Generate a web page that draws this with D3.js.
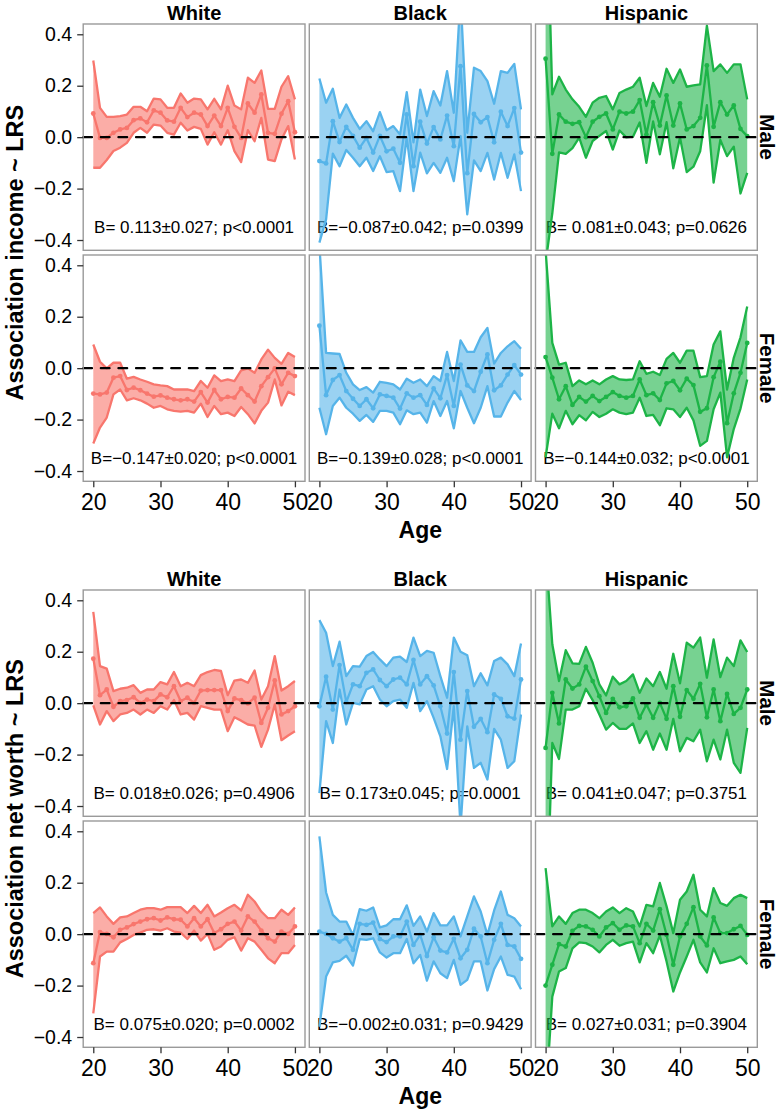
<!DOCTYPE html>
<html><head><meta charset="utf-8">
<script src="https://cdn.jsdelivr.net/npm/d3@7"></script>
<style>body{margin:0;background:#fff} svg{display:block} text{font-family:"Liberation Sans",Arial,Helvetica,sans-serif}</style>
</head><body>
<svg id="chart" width="781" height="1111"></svg>
<script>
// ---------------- data ----------------
const ages = [20,21,22,23,24,25,26,27,28,29,30,31,32,33,34,35,36,37,38,39,40,41,42,43,44,45,46,47,48,49,50];
const races = ["White","Black","Hispanic"];
const sexes = ["Male","Female"];
const yTicks = [-0.4,-0.2,0,0.2,0.4];
const xTicks = [20,30,40,50];
const yTitles = ["Association income ~ LRS","Association net worth ~ LRS"];
const raceColors = ["#F8766D","#56B4E9","#1DB447"];

// income, White Male
const incWhiteMaleEst = [.092,-.003,-.003,.017,.03,.036,.066,.073,.058,.104,.095,.065,.06,.114,.078,.095,.088,.043,.084,.043,.114,.04,-.003,.131,.095,.166,.017,.013,.091,.14,.019];
const incWhiteMaleHi = [.298,.114,.079,.079,.082,.088,.118,.118,.101,.15,.147,.114,.114,.17,.134,.15,.147,.108,.149,.108,.2,.123,.108,.231,.211,.259,.11,.11,.196,.237,.147];
const incWhiteMaleLo = [-.119,-.119,-.089,-.054,-.041,-.022,.017,.036,.017,.049,.045,.017,.01,.056,.026,.04,.032,-.029,.019,-.029,.027,-.054,-.097,.027,-.016,.075,-.087,-.093,-.009,.043,-.087];
// income, Black Male
const incBlackMaleEst = [-.093,-.102,.062,-.019,.04,.005,-.041,-.003,-.06,.005,-.055,-.045,-.1,.088,-.113,.06,-.025,.039,-.009,.084,-.035,.276,-.14,.09,.058,.078,-.02,.099,.043,.113,-.06];
const incBlackMaleHi = [.228,.134,.188,.075,.127,.075,.032,.062,.023,.097,.027,.043,.01,.175,-.02,.185,.082,.179,.123,.257,.095,.55,.017,.27,.257,.218,.13,.257,.25,.285,.108];
const incBlackMaleLo = [-.41,-.32,-.064,-.113,-.05,-.08,-.113,-.08,-.132,-.074,-.136,-.132,-.21,0,-.21,-.06,-.141,-.1,-.139,-.08,-.171,.004,-.3,-.09,-.132,-.061,-.165,-.061,-.158,-.067,-.21];
// income, Hispanic Male
const incHispMaleEst = [.305,-.065,.088,.06,.052,.058,0,.06,.079,.092,.03,.099,.092,.099,.144,.01,.136,.045,.162,.045,.131,.03,.043,.075,.279,.04,.136,.088,.123,.032,.004];
const incHispMaleHi = [1.1,.166,.235,.185,.147,.118,.079,.134,.153,.16,.108,.172,.185,.196,.231,.121,.211,.157,.266,.211,.263,.196,.201,.205,.434,.257,.283,.25,.283,.283,.147];
const incHispMaleLo = [-.49,-.296,-.059,-.065,-.043,-.002,-.08,-.015,.005,.024,-.048,.026,-.001,.002,.057,-.1,.061,-.067,.058,-.121,-.001,-.136,-.115,-.055,.124,-.177,-.011,-.074,-.037,-.219,-.139];
// income, White Female
const incWhiteFemaleEst = [-.099,-.102,-.095,-.037,-.031,-.085,-.076,-.086,-.099,-.111,-.106,-.115,-.121,-.125,-.121,-.13,-.093,-.134,-.085,-.121,-.112,-.115,-.079,-.105,-.13,-.07,-.035,-.001,-.063,-.018,-.031];
const incWhiteFemaleHi = [.092,.025,-.001,.021,.021,-.041,-.034,-.044,-.053,-.063,-.067,-.07,-.083,-.083,-.083,-.089,-.05,-.076,-.028,-.05,-.044,-.05,-.009,-.001,-.018,.034,.072,.04,.017,.059,.043];
const incWhiteFemaleLo = [-.293,-.231,-.192,-.102,-.083,-.125,-.117,-.125,-.138,-.154,-.147,-.16,-.166,-.169,-.166,-.173,-.138,-.19,-.147,-.179,-.173,-.186,-.151,-.179,-.215,-.166,-.134,-.044,-.145,-.092,-.105];
// income, Black Female
const incBlackFemaleEst = [.165,-.105,-.046,-.027,-.089,-.119,-.147,-.121,-.156,-.102,-.108,-.115,-.157,-.098,-.115,-.105,-.143,-.079,-.117,-.027,-.147,.014,-.067,-.089,-.014,.053,-.086,-.067,-.025,.012,-.025];
const incBlackFemaleHi = [.48,.059,.057,.055,-.018,-.063,-.085,-.074,-.095,-.053,-.057,-.063,-.083,-.041,-.057,-.044,-.07,-.031,-.05,.063,-.05,.108,.063,.063,.12,.156,.018,.059,.085,.105,.075];
const incBlackFemaleLo = [-.154,-.257,-.147,-.115,-.154,-.177,-.205,-.182,-.209,-.166,-.166,-.173,-.218,-.164,-.179,-.173,-.212,-.128,-.186,-.128,-.234,-.089,-.154,-.214,-.154,-.07,-.188,-.188,-.134,-.089,-.124];
// income, Hispanic Female
const incHispFemaleEst = [.043,-.037,-.121,-.07,-.143,-.112,-.13,-.108,-.128,-.112,-.093,-.108,-.115,-.108,-.044,-.105,-.098,-.124,-.059,-.05,-.086,-.041,-.066,-.17,-.156,-.035,.025,-.214,-.098,-.018,.098];
const incHispFemaleHi = [.46,.098,.014,.021,-.07,-.048,-.063,-.048,-.063,-.044,-.031,-.044,-.046,-.044,.027,-.022,-.014,-.027,.036,.059,.021,.068,.068,-.035,-.031,.092,.143,-.083,.04,.12,.24];
const incHispFemaleLo = [-.347,-.177,-.234,-.166,-.218,-.183,-.203,-.17,-.19,-.177,-.16,-.173,-.179,-.173,-.115,-.186,-.182,-.222,-.156,-.16,-.19,-.154,-.203,-.302,-.283,-.16,-.095,-.347,-.237,-.157,-.044];
// net worth, White Male
const nwWhiteMaleEst = [.173,.031,.053,-.014,.008,.012,.023,.001,.014,.008,.034,.023,.066,.008,.021,.001,.049,.051,.051,.051,-.031,.018,.012,-.001,.021,-.077,-.018,.088,-.044,-.031,-.012];
const nwWhiteMaleHi = [.355,.144,.134,.047,.056,.06,.07,.04,.053,.053,.082,.073,.121,.066,.079,.066,.109,.121,.129,.125,.031,.088,.092,.079,.127,.014,.066,.183,.049,.066,.086];
const nwWhiteMaleLo = [-.009,-.083,-.031,-.07,-.044,-.038,-.025,-.044,-.025,-.038,-.012,-.025,.012,-.044,-.038,-.064,-.012,-.018,-.025,-.025,-.109,-.055,-.068,-.083,-.087,-.17,-.103,-.005,-.144,-.126,-.109];
// net worth, Black Male
const nwBlackMaleEst = [-.012,.103,-.025,.148,.004,.073,.066,.118,.131,.09,.066,.092,.099,.073,.168,.073,.105,.069,-.012,-.118,.121,-.142,.047,-.092,-.061,-.113,.034,.017,-.051,-.06,.092];
const nwBlackMaleHi = [.323,.274,.144,.239,.105,.144,.142,.183,.199,.17,.144,.177,.181,.16,.255,.183,.203,.196,.105,.021,.255,.2,.186,.066,.116,.069,.164,.177,.151,.105,.232];
const nwBlackMaleLo = [-.35,-.07,-.155,.053,-.083,.001,-.005,.053,.066,.014,-.012,.008,.014,-.018,.079,-.031,.008,-.057,-.129,-.256,-.012,-.48,-.09,-.252,-.232,-.297,-.1,-.142,-.252,-.226,-.044];
// net worth, Hispanic Male
const nwHispMaleEst = [-.174,.04,-.079,.092,.057,.073,.142,.086,.027,-.038,.017,-.016,-.012,.018,-.057,-.005,-.057,.001,-.061,.066,-.053,.051,.017,.075,-.055,.053,-.07,.036,-.042,-.018,.053];
const nwHispMaleHi = [.6,.229,.086,.206,.155,.153,.219,.157,.073,.03,.103,.073,.086,.112,.04,.096,.066,.121,.056,.192,.077,.235,.216,.255,.099,.248,.101,.177,.144,.244,.199];
const nwHispMaleLo = [-.95,-.155,-.217,-.025,-.025,-.012,.056,.012,-.044,-.103,-.077,-.1,-.1,-.079,-.155,-.109,-.181,-.118,-.181,-.061,-.187,-.135,-.148,-.103,-.226,-.142,-.219,-.103,-.232,-.271,-.096];
// net worth, White Female
const nwWhiteFemaleEst = [-.113,.008,.001,-.012,.017,.026,.039,.049,.058,.062,.053,.065,.058,.056,.03,.062,.03,.058,.004,.019,.04,.049,.014,.069,.049,.014,-.016,-.029,.01,.001,.03];
const nwWhiteFemaleHi = [.082,.104,.069,.04,.065,.069,.082,.095,.101,.101,.095,.105,.105,.105,.082,.11,.082,.114,.069,.084,.101,.114,.092,.153,.127,.088,.062,.062,.095,.075,.104];
const nwWhiteFemaleLo = [-.308,-.087,-.068,-.068,-.032,-.019,-.003,.006,.017,.019,.014,.023,.01,.006,-.019,.014,-.025,.001,-.061,-.048,-.022,-.012,-.064,-.016,-.029,-.061,-.094,-.113,-.074,-.074,-.042];
// net worth, Black Female
const nwBlackFemaleEst = [.01,.001,-.016,-.029,-.016,-.061,.04,.036,.045,-.019,-.031,-.009,-.009,.049,-.042,-.003,-.085,-.012,-.064,-.071,-.018,-.094,-.061,.021,-.009,-.113,-.022,.04,-.042,-.048,-.096];
const nwBlackFemaleHi = [.38,.162,.075,.049,.049,-.003,.097,.091,.104,.026,.034,.058,.058,.112,.032,.069,.01,.082,.034,.034,.069,-.009,.069,.147,.088,-.003,.092,.166,.075,.062,.03];
const nwBlackFemaleLo = [-.36,-.165,-.11,-.104,-.084,-.122,-.019,-.022,-.016,-.071,-.091,-.074,-.074,-.019,-.113,-.081,-.181,-.106,-.152,-.171,-.1,-.197,-.178,-.106,-.106,-.219,-.136,-.087,-.158,-.165,-.214];
// net worth, Hispanic Female
const nwHispFemaleEst = [-.2,-.119,-.039,-.048,.013,.032,.03,.017,-.009,.026,.043,.017,.034,.03,-.035,.04,.014,.097,-.003,-.119,-.009,.04,.105,-.009,-.044,.065,.004,.004,.019,.032,-.003];
const nwHispFemaleHi = [.257,.03,.069,.04,.082,.095,.095,.082,.062,.088,.104,.082,.101,.088,.03,.114,.108,.199,.108,.004,.134,.166,.231,.095,.069,.179,.121,.11,.14,.153,.14];
const nwHispFemaleLo = [-.657,-.243,-.145,-.132,-.055,-.032,-.035,-.048,-.071,-.042,-.022,-.045,-.035,-.029,-.11,-.035,-.074,-.005,-.106,-.223,-.149,-.087,-.022,-.11,-.149,-.055,-.113,-.106,-.1,-.087,-.117];

// annotations (figure, sex, race)
const incLabels = [["B= 0.113±0.027; p<0.0001","B=−0.087±0.042; p=0.0399","B= 0.081±0.043; p=0.0626"],
                   ["B=−0.147±0.020; p<0.0001","B=−0.139±0.028; p<0.0001","B=−0.144±0.032; p<0.0001"]];
const nwLabels = [["B= 0.018±0.026; p=0.4906","B= 0.173±0.045; p=0.0001","B= 0.041±0.047; p=0.3751"],
                  ["B= 0.075±0.020; p=0.0002","B=−0.002±0.031; p=0.9429","B= 0.027±0.031; p=0.3904"]];

const figures = [
  {title: yTitles[0], labels: incLabels, panels: [
    [[incWhiteMaleEst,incWhiteMaleLo,incWhiteMaleHi],[incBlackMaleEst,incBlackMaleLo,incBlackMaleHi],[incHispMaleEst,incHispMaleLo,incHispMaleHi]],
    [[incWhiteFemaleEst,incWhiteFemaleLo,incWhiteFemaleHi],[incBlackFemaleEst,incBlackFemaleLo,incBlackFemaleHi],[incHispFemaleEst,incHispFemaleLo,incHispFemaleHi]]]},
  {title: yTitles[1], labels: nwLabels, panels: [
    [[nwWhiteMaleEst,nwWhiteMaleLo,nwWhiteMaleHi],[nwBlackMaleEst,nwBlackMaleLo,nwBlackMaleHi],[nwHispMaleEst,nwHispMaleLo,nwHispMaleHi]],
    [[nwWhiteFemaleEst,nwWhiteFemaleLo,nwWhiteFemaleHi],[nwBlackFemaleEst,nwBlackFemaleLo,nwBlackFemaleHi],[nwHispFemaleEst,nwHispFemaleLo,nwHispFemaleHi]]]}
];

// ---------------- layout ----------------
const W = 221.8, H = 226.3;
const colLeft = [83.2, 309.3, 535.5];
const rowTop = [24, 255];
const figTop = [0, 566];

const x = d3.scaleLinear().domain([18.5, 51.5]).range([0, W]);
const y = d3.scaleLinear().domain([-0.44, 0.44]).range([H, 0]);

const svg = d3.select("#chart");
const defs = svg.append("defs");
defs.append("clipPath").attr("id","pclip").append("rect").attr("x",0).attr("y",0).attr("width",W).attr("height",H);

const area = d3.area().x((d,i)=>x(ages[i])).y0(d=>y(d[0])).y1(d=>y(d[1]));
const line = d3.line().x((d,i)=>x(ages[i])).y(d=>y(d));

figures.forEach((fig, f) => {
  const fg = svg.append("g").attr("transform", `translate(0,${figTop[f]})`);
  races.forEach((r, c) => {
    fg.append("text").attr("x", colLeft[c] + W/2).attr("y", 20)
      .attr("text-anchor","middle").attr("font-size",20).attr("font-weight","bold").text(r);
  });
  sexes.forEach((s, r) => {
    fg.append("text").attr("transform", `translate(760,${rowTop[r] + H/2}) rotate(90)`)
      .attr("text-anchor","middle").attr("font-size",20.5).attr("font-weight","bold").text(s);
  });
  fg.append("text").attr("transform", `translate(22.5,${(rowTop[0] + rowTop[1] + H)/2}) rotate(-90)`)
    .attr("text-anchor","middle").attr("font-size",23.5).attr("font-weight","bold").text(fig.title);
  fg.append("text").attr("x", (colLeft[0] + colLeft[2] + W)/2).attr("y", 538)
    .attr("text-anchor","middle").attr("font-size",23).attr("font-weight","bold").text("Age");

  for (let r = 0; r < 2; r++) {
    for (let c = 0; c < 3; c++) {
      const [est, lo, hi] = fig.panels[r][c];
      const col = raceColors[c];
      const pg = fg.append("g").attr("transform", `translate(${colLeft[c]},${rowTop[r]})`);
      pg.append("rect").attr("width",W).attr("height",H).attr("fill","#fff");
      pg.append("text").attr("x", W/2).attr("y", H - 17).attr("text-anchor","middle")
        .attr("font-size",17).attr("fill","#000").text(fig.labels[r][c]);
      const dg = pg.append("g").attr("clip-path","url(#pclip)");
      const band = lo.map((v,i)=>[v, hi[i]]);
      dg.append("path").attr("d", area(band)).attr("fill", col).attr("fill-opacity",0.6).attr("stroke","none");
      [lo, hi, est].forEach(s => {
        dg.append("path").attr("d", line(s)).attr("fill","none").attr("stroke",col)
          .attr("stroke-width",2.3).attr("stroke-linejoin","round");
      });
      dg.selectAll("circle").data(est).join("circle")
        .attr("cx",(d,i)=>x(ages[i])).attr("cy",d=>y(d)).attr("r",2.4).attr("fill",col);
      pg.append("line").attr("x1",0).attr("x2",W).attr("y1",y(0)).attr("y2",y(0))
        .attr("stroke","#000").attr("stroke-width",2.2).attr("stroke-dasharray","8.8,8.8").attr("stroke-linecap","round");
      pg.append("rect").attr("width",W).attr("height",H).attr("fill","none").attr("stroke","#9a9a9a").attr("stroke-width",1.4);

      if (c === 0) {
        const ax = pg.append("g").call(d3.axisLeft(y).tickValues(yTicks).tickFormat(d3.format(".1f")).tickSize(6).tickPadding(5));
        ax.select(".domain").remove();
        ax.selectAll("line").attr("stroke","#333").attr("stroke-width",1.3);
        ax.selectAll("text").attr("font-size",19.5).attr("fill","#000").attr("font-family",null);
      }
      if (r === 1) {
        const ax = pg.append("g").attr("transform",`translate(0,${H})`)
          .call(d3.axisBottom(x).tickValues(xTicks).tickFormat(d3.format("d")).tickSize(6).tickPadding(6.5));
        ax.select(".domain").remove();
        ax.selectAll("line").attr("stroke","#333").attr("stroke-width",1.3);
        ax.selectAll("text").attr("font-size",23).attr("fill","#000").attr("font-family",null);
      }
    }
  }
});
</script>
</body></html>
